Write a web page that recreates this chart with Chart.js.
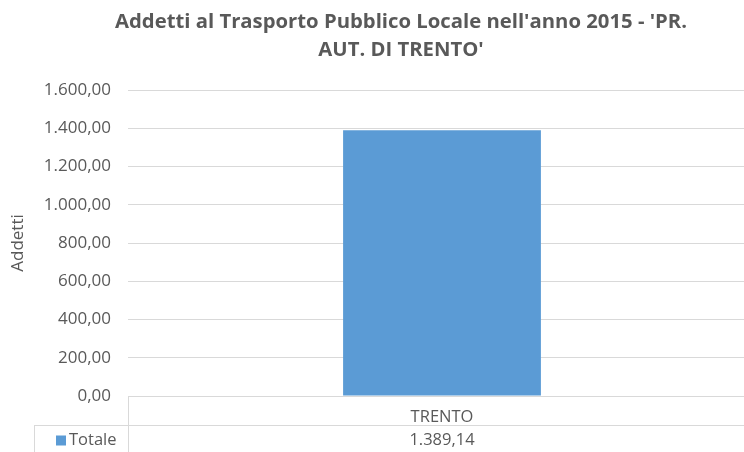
<!DOCTYPE html>
<html>
<head>
<meta charset="utf-8">
<script src="https://cdn.jsdelivr.net/npm/chart.js@4.4.0/dist/chart.umd.min.js"></script>
<style>
  html, body { margin: 0; padding: 0; overflow: hidden; background: #fff; }
  #wrap { width: 802px; height: 452px; }
</style>
</head>
<body>
<div id="wrap"><canvas id="chart" width="802" height="452"></canvas></div>
<script>
const categories = ['TRENTO'];
const totale = [1389.14];
const seriesName = 'Totale';
const titleLines = ["Addetti al Trasporto Pubblico Locale nell'anno 2015 - 'PR.", "AUT. DI TRENTO'"];

const textColor = '#595959';
const gridColor = '#d9d9d9';
const barColor = '#5b9bd5';

// 1.389,14 style numbers
function fmt(v) {
    const parts = v.toFixed(2).split('.');
    parts[0] = parts[0].replace(/\B(?=(\d{3})+(?!\d))/g, '.');
    return parts.join(',');
}

// chart title, centred on the whole (uncropped) chart
const chartTitle = {
    id: 'chartTitle',
    afterDraw(chart) {
        const ctx = chart.ctx;
        ctx.save();
        ctx.fillStyle = textColor;
        ctx.font = 'bold 20.3px "Open Sans", sans-serif';
        ctx.textAlign = 'center';
        ctx.textBaseline = 'middle';
        titleLines.forEach((line, i) => {
            ctx.fillText(line, chart.width / 2, 22 + i * 28);
        });
        ctx.restore();
    }
};

// draws the data table under the x axis
const dataTable = {
    id: 'dataTable',
    afterDraw(chart) {
        const ctx = chart.ctx;
        const area = chart.chartArea;
        const xScale = chart.scales.x;
        const rowTop = xScale.bottom;
        const bottom = chart.height;
        const tableLeft = 34;
        ctx.save();
        ctx.strokeStyle = gridColor;
        ctx.lineWidth = 1;
        ctx.beginPath();
        ctx.moveTo(tableLeft, rowTop + 0.5);
        ctx.lineTo(area.right, rowTop + 0.5);
        ctx.moveTo(area.left + 0.5, area.bottom);
        ctx.lineTo(area.left + 0.5, bottom);
        ctx.moveTo(tableLeft + 0.5, rowTop);
        ctx.lineTo(tableLeft + 0.5, bottom);
        ctx.moveTo(area.right - 0.5, area.bottom);
        ctx.lineTo(area.right - 0.5, bottom);
        ctx.stroke();

        const midY = (rowTop + bottom) / 2 + 2;
        ctx.fillStyle = barColor;
        ctx.fillRect(tableLeft + 22, midY - 5, 10, 10);
        ctx.fillStyle = textColor;
        ctx.font = '16.5px "Open Sans", sans-serif';
        ctx.textBaseline = 'middle';
        ctx.textAlign = 'left';
        ctx.fillText(seriesName, tableLeft + 35, midY);
        ctx.textAlign = 'center';
        totale.forEach((v, i) => {
            ctx.fillText(fmt(v), xScale.getPixelForValue(i), midY);
        });
        ctx.restore();
    }
};

new Chart(document.getElementById('chart'), {
    type: 'bar',
    data: {
        labels: categories,
        datasets: [{
            label: seriesName,
            data: totale,
            backgroundColor: barColor,
            borderWidth: 0,
            categoryPercentage: 1,
            barPercentage: 0.315
        }]
    },
    options: {
        responsive: false,
        animation: false,
        layout: { padding: { left: 0, right: 46, top: 90, bottom: 27 } },
        plugins: {
            legend: { display: false },
            tooltip: { enabled: false },
            title: { display: false }
        },
        scales: {
            x: {
                grid: { display: false },
                border: { display: false },
                ticks: { color: textColor, font: { family: '"Open Sans", sans-serif', size: 16.5 }, padding: 3 },
                afterFit(scale) { scale.height = 29; }
            },
            y: {
                min: 0,
                max: 1600,
                ticks: {
                    stepSize: 200,
                    color: textColor,
                    font: { family: '"Open Sans", sans-serif', size: 17 },
                    padding: 17,
                    callback: (v) => fmt(v)
                },
                grid: { color: gridColor, drawTicks: false },
                border: { display: false },
                title: {
                    display: true,
                    text: 'Addetti',
                    color: textColor,
                    font: { family: '"Open Sans", sans-serif', size: 17 },
                    padding: { top: 8, bottom: 4 }
                },
                afterFit(scale) { scale.width = 128; }
            }
        }
    },
    plugins: [chartTitle, dataTable]
});
</script>
</body>
</html>
